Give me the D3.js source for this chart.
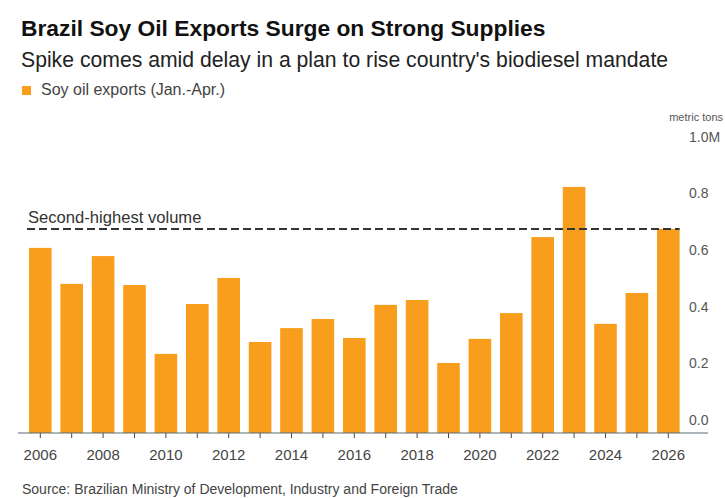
<!DOCTYPE html>
<html>
<head>
<meta charset="utf-8">
<script src="https://cdn.jsdelivr.net/npm/d3@7"></script>
<style>
  body { margin: 0; background: #fff; }
  text { font-family: "Liberation Sans", Arial, sans-serif; }
</style>
</head>
<body>
<div class="chart"></div>
<script>
var years = d3.range(2006, 2027);
var exports = [0.653, 0.526, 0.624, 0.522, 0.279, 0.455, 0.547, 0.321, 0.370, 0.402,
               0.335, 0.452, 0.469, 0.247, 0.332, 0.423, 0.691, 0.868, 0.385, 0.494, 0.720];
var yTicks = [0, 0.2, 0.4, 0.6, 0.8, 1.0];
var yTickLabels = ["0.0", "0.2", "0.4", "0.6", "0.8", "1.0M"];
var xTickLabels = [2006, 2008, 2010, 2012, 2014, 2016, 2018, 2020, 2022, 2024, 2026];

var svgWidth = 725;
var svgHeight = 498;
var barColor = "#f99d1c";

var svg = d3.select(".chart")
  .append("svg")
  .attr("width", svgWidth)
  .attr("height", svgHeight);

// scales
var x = d3.scaleBand()
  .domain(years)
  .range([24.6, 684])
  .paddingInner(0.28)
  .paddingOuter(0.14);

var y = d3.scaleLinear()
  .domain([0, 1])
  .range([433, 149.5]);

// header
svg.append("text")
  .attr("x", 21).attr("y", 36)
  .attr("font-size", 22.8)
  .attr("font-weight", "bold")
  .attr("fill", "#111")
  .text("Brazil Soy Oil Exports Surge on Strong Supplies");

svg.append("text")
  .attr("x", 21).attr("y", 67)
  .attr("font-size", 21.2)
  .attr("fill", "#222")
  .text("Spike comes amid delay in a plan to rise country's biodiesel mandate");

svg.append("rect")
  .attr("x", 22).attr("y", 86)
  .attr("width", 9).attr("height", 9)
  .attr("fill", barColor);

svg.append("text")
  .attr("x", 41).attr("y", 95)
  .attr("font-size", 16)
  .attr("fill", "#444")
  .text("Soy oil exports (Jan.-Apr.)");

// bars
svg.selectAll(".bar")
  .data(exports)
  .enter()
  .append("rect")
  .attr("class", "bar")
  .attr("x", (d, i) => x(years[i]))
  .attr("y", d => y(d))
  .attr("width", x.bandwidth())
  .attr("height", d => y(0) - y(d))
  .attr("fill", barColor);

// second-highest line
var secondHighest = d3.sort(exports, (a, b) => b - a)[1];
svg.append("line")
  .attr("x1", 27)
  .attr("x2", x(2026) + x.bandwidth())
  .attr("y1", y(secondHighest))
  .attr("y2", y(secondHighest))
  .attr("stroke", "#333")
  .attr("stroke-width", 2)
  .attr("stroke-dasharray", "8,4");

svg.append("text")
  .attr("x", 28).attr("y", y(secondHighest) - 6)
  .attr("font-size", 16.6)
  .attr("fill", "#333")
  .text("Second-highest volume");

// x axis
var xAxis = d3.axisBottom(x)
  .tickSize(5)
  .tickFormat(d => xTickLabels.includes(d) ? d : "");

var xAxisG = svg.append("g")
  .attr("transform", `translate(0, ${y(0)})`)
  .call(xAxis);

xAxisG.select(".domain").remove();
xAxisG.selectAll(".tick line").attr("stroke", "#444");
xAxisG.selectAll(".tick text")
  .attr("y", 16)
  .attr("font-size", 15)
  .attr("font-family", "Liberation Sans, Arial, sans-serif")
  .attr("fill", "#444");

svg.append("line")
  .attr("x1", 18).attr("x2", 708)
  .attr("y1", y(0)).attr("y2", y(0))
  .attr("stroke", "#5b6b7b")
  .attr("stroke-width", 1.2);

// y labels
svg.selectAll(".ylabel")
  .data(yTicks)
  .enter()
  .append("text")
  .attr("class", "ylabel")
  .attr("x", 689)
  .attr("y", d => y(d) - 8)
  .attr("font-size", 14)
  .attr("fill", "#555")
  .text((d, i) => yTickLabels[i]);

svg.append("text")
  .attr("x", 723).attr("y", 121)
  .attr("text-anchor", "end")
  .attr("font-size", 11)
  .attr("fill", "#555")
  .text("metric tons");

// source
svg.append("text")
  .attr("x", 22).attr("y", 494)
  .attr("font-size", 14)
  .attr("fill", "#444")
  .text("Source: Brazilian Ministry of Development, Industry and Foreign Trade");
</script>
</body>
</html>
